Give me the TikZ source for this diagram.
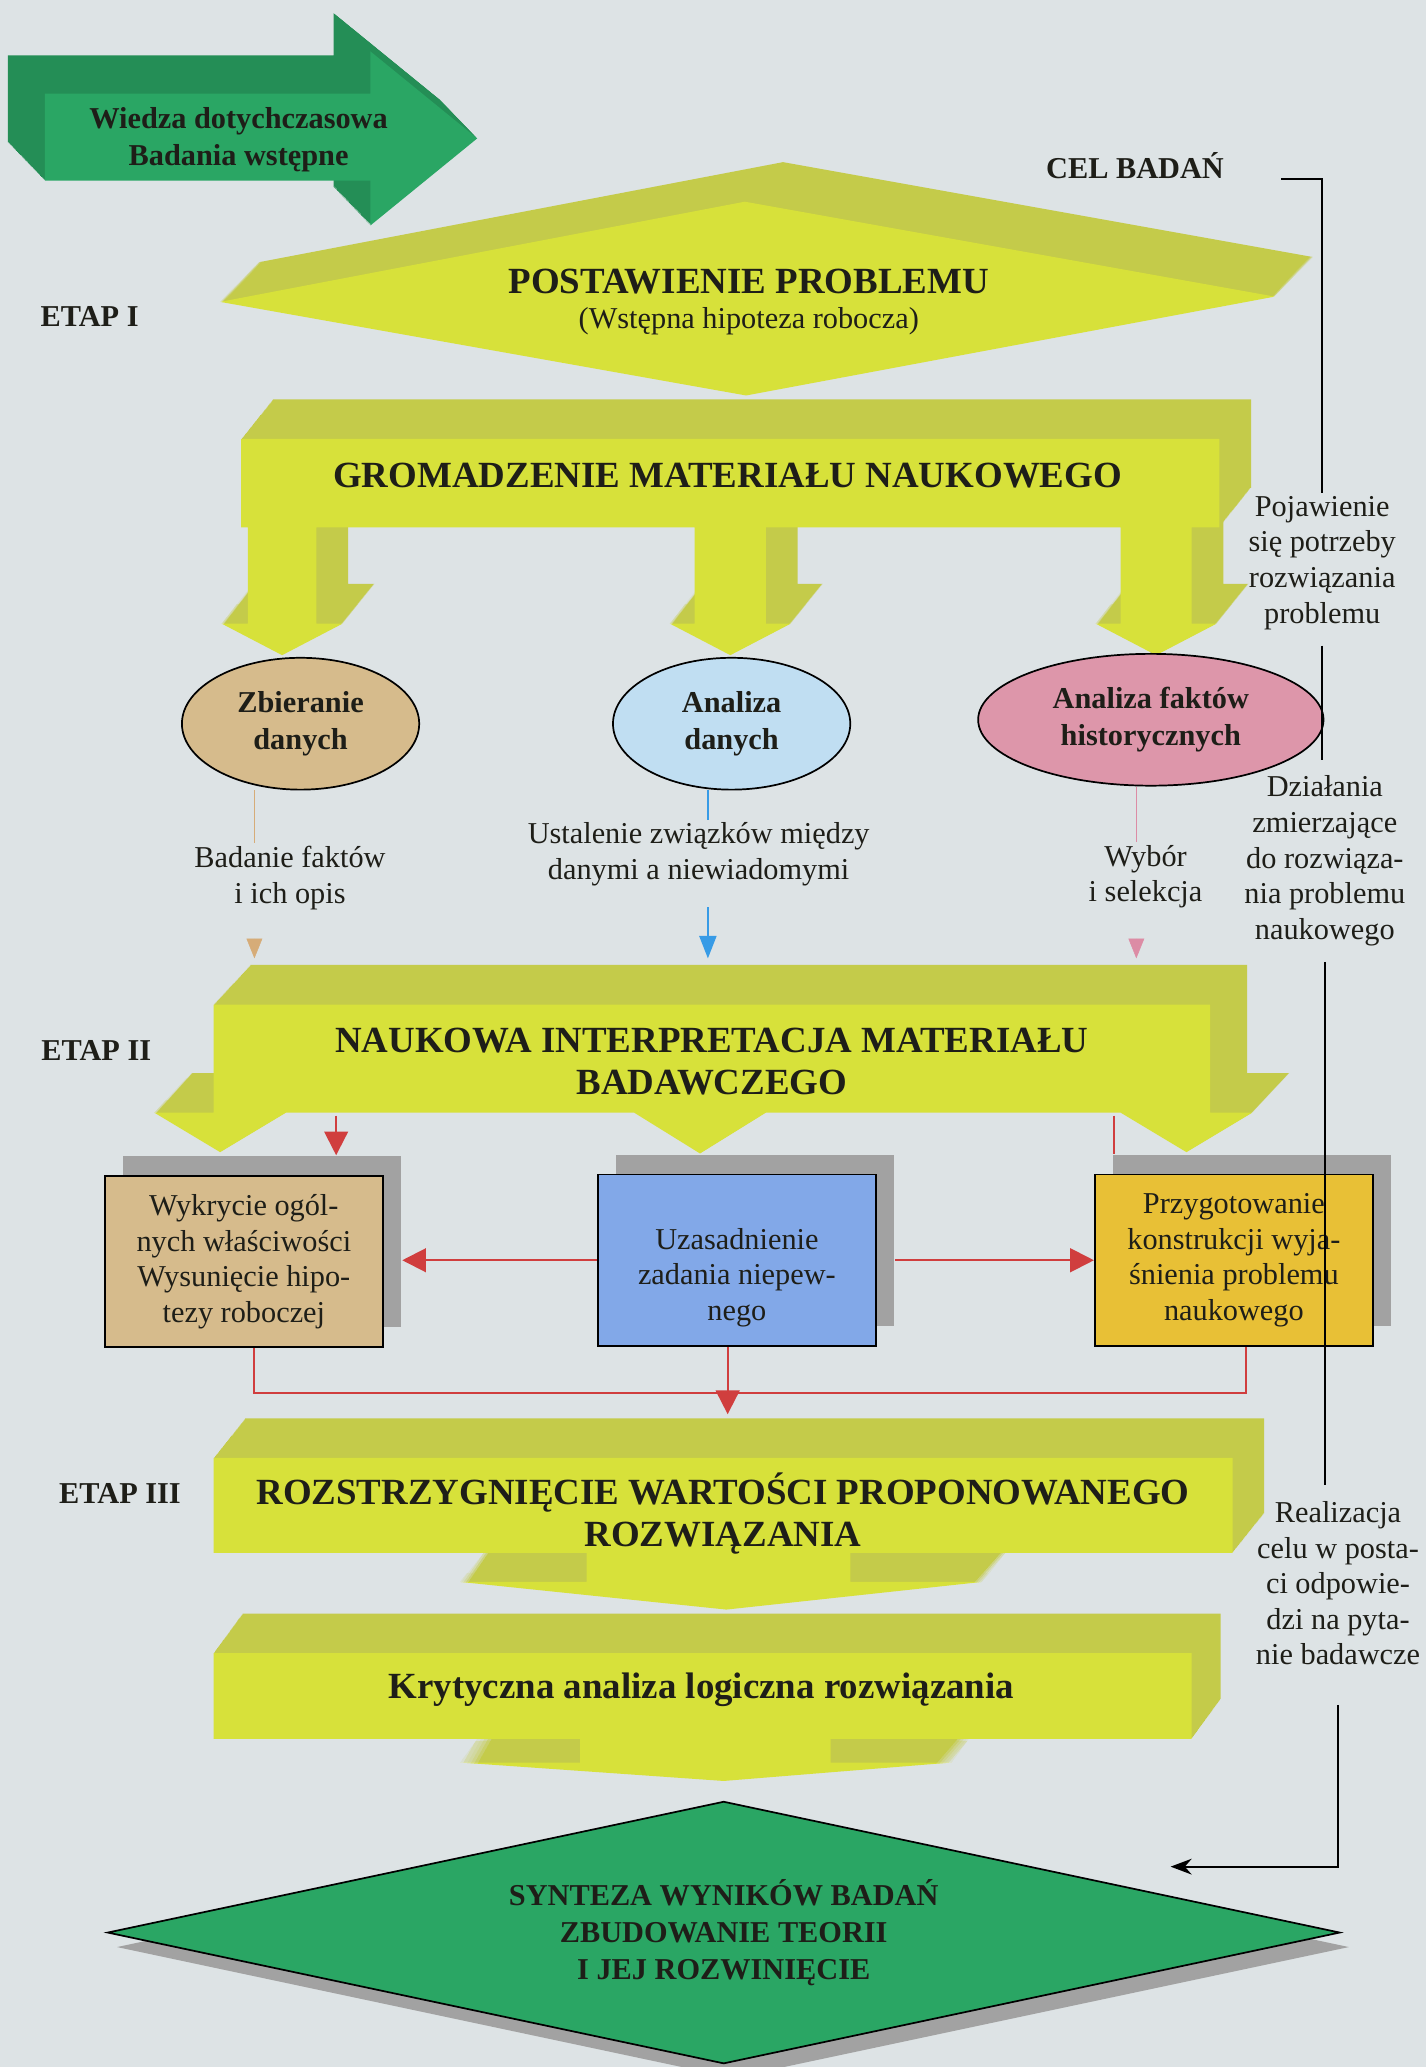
\documentclass[tikz,border=0pt]{standalone}
\usepackage{fontspec}
\setmainfont{Liberation Serif}
\usetikzlibrary{shapes.geometric, arrows.meta, calc, positioning, shadows}
\definecolor{paper}{RGB}{221,227,229}
\definecolor{lime}{RGB}{215,225,58}
\definecolor{limedark}{RGB}{196,203,74}
\definecolor{leaf}{RGB}{42,166,100}
\definecolor{leafdark}{RGB}{36,142,86}
\definecolor{sand}{RGB}{214,187,140}
\definecolor{sky}{RGB}{192,222,242}
\definecolor{rose}{RGB}{221,150,170}
\definecolor{cornflower}{RGB}{130,168,232}
\definecolor{gold}{RGB}{232,192,54}
\definecolor{shadowgrey}{RGB}{162,162,162}
\definecolor{darkred}{RGB}{208,62,62}
\definecolor{sandline}{RGB}{214,172,120}
\definecolor{skyline}{RGB}{55,155,230}
\definecolor{roseline}{RGB}{220,140,165}
\definecolor{ink}{RGB}{30,30,24}

\newcommand{\bigbf}{\fontsize{28}{32}\selectfont\bfseries}
\newcommand{\smbf}{\fontsize{23}{28}\selectfont\bfseries}
\newcommand{\smrm}{\fontsize{23}{27}\selectfont}

% 3d block: path, depth x, depth y, colour
\newcommand{\blockpath}[4]{%
	\foreach \k in {1,...,40}{\fill[#4dark, shift={({#2*\k/40},{#3*\k/40})}] #1;}
	\fill[#4] #1;}

\tikzset{
	headline/.style={text=ink, align=center, font=\bigbf},
	note/.style={text=ink, align=center, font=\smrm, inner sep=2pt},
	etap/.style={text=ink, font=\smbf},
	oval/.style={ellipse, draw=black, line width=1.3pt, minimum height=100pt, text=ink, align=center, font=\smbf, inner sep=0pt},
	card/.style={rectangle, draw=black, line width=1.3pt, minimum width=211pt, minimum height=130pt, text=ink, align=center, font=\smrm, general shadow={fill=shadowgrey, shadow xshift=14pt, shadow yshift=15pt}},
	redline/.style={darkred, line width=1.6pt},
	redarrow/.style={redline, -{Triangle[length=18pt,width=18pt]}},
	goalline/.style={black, line width=1.3pt},
}

\begin{document}
\begin{tikzpicture}[x=1pt, y=-1pt]
			\fill[paper] (0,0) rectangle (1082,1568);
			\useasboundingbox (0,0) rectangle (1082,1568);

			% yellow and green blocks
			\blockpath{(34,71) -- (281,71) -- (281,39) -- (362,105) -- (281,171) -- (281,137) -- (34,137) -- cycle}{-28}{-29}{leaf}
			\blockpath{(167,229) -- (565,153) -- (967,225) -- (566,300) -- cycle}{29}{-30}{lime}
			\blockpath{(183,333) -- (925,333) -- (925,400) -- (904,400) -- (904,473) -- (923,473) -- (877,497) -- (831,473) -- (850,473) -- (850,400) -- (581,400) -- (581,473) -- (600,473) -- (554,497) -- (508,473) -- (527,473) -- (527,400) -- (240,400) -- (240,473) -- (260,473) -- (214,497) -- (168,473) -- (188,473) -- (188,400) -- (183,400) -- cycle}{24}{-30}{lime}
			\blockpath{(162,762) -- (918,762) -- (918,844) -- (950,844) -- (900,874) -- (850,844) -- (581,844) -- (531,875) -- (481,844) -- (217,844) -- (167,874) -- (117,844) -- (162,844) -- cycle}{28}{-30}{lime}
			\blockpath{(162,1106) -- (935,1106) -- (935,1178) -- (645,1178) -- (645,1200) -- (745,1200) -- (551,1221) -- (349,1200) -- (445,1200) -- (445,1178) -- (162,1178) -- cycle}{24}{-30}{lime}
			\blockpath{(162,1254) -- (904,1254) -- (904,1319) -- (630,1319) -- (630,1337) -- (722,1337) -- (549,1351) -- (349,1337) -- (440,1337) -- (440,1319) -- (162,1319) -- cycle}{22}{-30}{lime}

			\node(wiedza) [font=\smbf, text=ink, align=center] at (181,106) {Wiedza dotychczasowa\\Badania wstępne};
			\node(postaw) [note] at (568,229) {{\bigbf POSTAWIENIE PROBLEMU}\\(Wstępna hipoteza robocza)};
			\node(gromadz) [headline] at (552,361) {GROMADZENIE MATERIAŁU NAUKOWEGO};
			\node(nauk) [headline, minimum width=756pt, minimum height=82pt, inner sep=0pt] at (540,805) {NAUKOWA INTERPRETACJA MATERIAŁU\\BADAWCZEGO};
			\node(rozstrz) [headline, minimum width=773pt, minimum height=72pt, inner sep=0pt] at (548.5,1148) {ROZSTRZYGNIĘCIE WARTOŚCI PROPONOWANEGO\\ROZWIĄZANIA};
			\node(kryt) [headline] at (532,1282) {Krytyczna analiza logiczna rozwiązania};

			\node(etap1) [etap] at (68,240) {ETAP I};
			\node(etap2) [etap] at (73,797) {ETAP II};
			\node(etap3) [etap] at (91,1133) {ETAP III};
			\node(cel) [etap] at (861,126) {CEL BADAŃ};

			\node(zbier) [oval, fill=sand, minimum width=180pt] at (228,549) {Zbieranie\\danych};
			\node(dane) [oval, fill=sky, minimum width=180pt] at (555,549) {Analiza\\danych};
			\node(fakty) [oval, fill=rose, minimum width=262pt] at (873,546) {Analiza faktów\\historycznych};

			\node(badanie) [note] at (220,666) {Badanie faktów\\i ich opis};
			\node(ustal) [note] at (530,648) {Ustalenie związków między\\danymi a niewiadomymi};
			\node(wybor) [note] at (869,665) {Wybór\\i selekcja};

			\node(wykr) [card, fill=sand] at (185,957) {Wykrycie ogól-\\nych właściwości\\Wysunięcie hipo-\\tezy roboczej};
			\node(uzas) [card, fill=cornflower, text height=96pt] at (559,956) {Uzasadnienie\\zadania niepew-\\nego};
			\node(przyg) [card, fill=gold] at (936,956) {Przygotowanie\\konstrukcji wyja-\\śnienia problemu\\naukowego};

			\node(synteza) [diamond, aspect=4.7, draw=black, line width=1.3pt, fill=leaf, minimum width=935pt, minimum height=199pt, inner sep=0pt, font=\smbf, text=ink, align=center, general shadow={fill=shadowgrey, shadow xshift=7pt, shadow yshift=-11pt}] at (549,1466) {SYNTEZA WYNIKÓW BADAŃ\\ZBUDOWANIE TEORII\\I JEJ ROZWINIĘCIE};

			\node(pojaw) [note] at (1003,427) {Pojawienie\\się potrzeby\\rozwiązania\\problemu};
			\node(dzial) [note] at (1005,653) {Działania\\zmierzające\\do rozwiąza-\\nia problemu\\naukowego};
			\node(realiz) [note] at (1015,1201) {Realizacja\\celu w posta-\\ci odpowie-\\dzi na pyta-\\nie badawcze};

			\coordinate (sandtip) at (193,727);
			\coordinate (skytip) at (537,727);
			\coordinate (rosetip) at (862,727);
			\coordinate (syntip) at (888,1416);

			% thin lines under the ovals
			\draw[sandline, line width=1pt] (zbier.south -| sandtip) -- (badanie.north -| sandtip);
			\draw[sandline, -{Triangle[length=15pt,width=12pt]}] ($(sandtip)+(0,-15)$) -- (sandtip);
			\draw[skyline, line width=1pt] (dane.south -| skytip) -- (ustal.north -| skytip);
			\draw[skyline, line width=1.2pt, shorten <=14pt, -{Triangle[length=17pt,width=13pt]}] (ustal.south -| skytip) -- (skytip);
			\draw[roseline, line width=1pt] (fakty.south -| rosetip) -- (wybor.north -| rosetip);
			\draw[roseline, -{Triangle[length=15pt,width=12pt]}] ($(rosetip)+(0,-15)$) -- (rosetip);

			% red connections
			\draw[redarrow] (nauk.south -| 255,0) -- ($(wykr.north -| 255,0)+(0,-15)$);
			\draw[redline] (nauk.south -| 845,0) -- ($(przyg.north -| 845,0)+(0,-15)$);
			\draw[redarrow] (uzas.west) -- ($(wykr.east |- uzas.west)+(14,0)$);
			\draw[redarrow] ($(uzas.east)+(14,0)$) -- (uzas.east -| przyg.west);
			\draw[redline] (wykr.south -| 193,0) -- ++(0,34) -| (przyg.south -| 945,0);
			\draw[redarrow] (uzas.south -| 552,0) -- ($(rozstrz.north -| 552,0)+(0,-39)$);

			% goal line on the right
			\draw[goalline] ([xshift=40pt]cel.base east) -| (pojaw.north);
			\draw[goalline, shorten <=10pt, shorten >=10pt] (pojaw.south) -- (pojaw.south |- dzial.north);
			\draw[goalline, shorten <=10pt, shorten >=10pt] (dzial.south) -- (dzial.south |- realiz.north);
			\draw[goalline, shorten <=28pt, -{Stealth[length=16pt,width=12pt]}] (realiz.south) |- (syntip);
		\end{tikzpicture}
\end{document}
